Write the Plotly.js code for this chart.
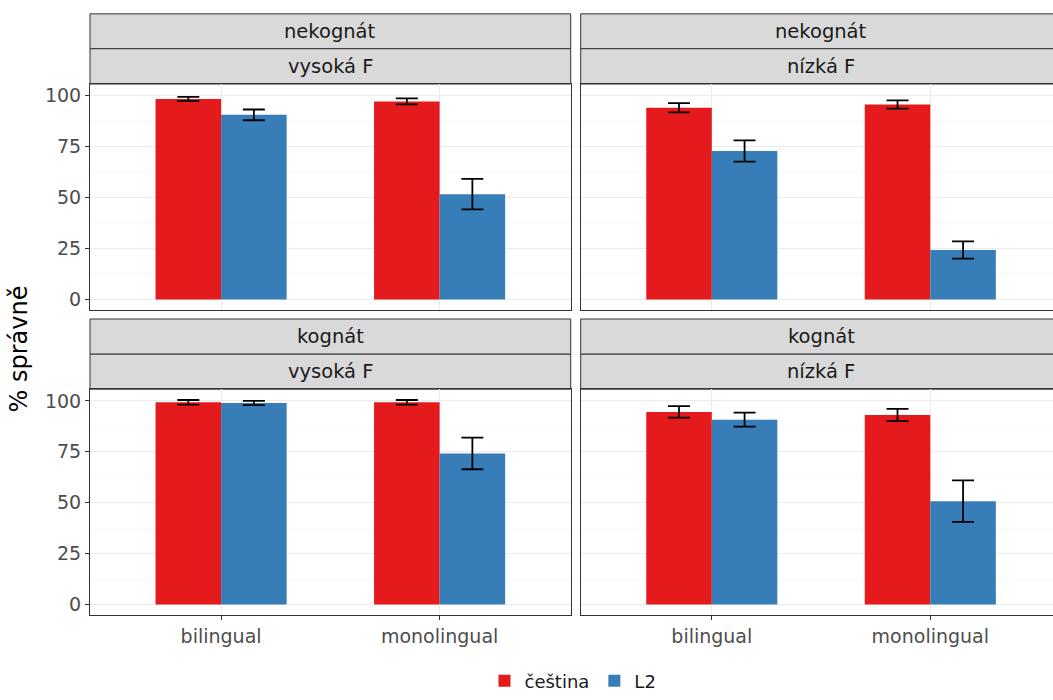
<!DOCTYPE html>
<html>
<head>
<meta charset="utf-8">
<script src="https://cdn.plot.ly/plotly-3.0.1.min.js"></script>
<style>html,body{margin:0;padding:0;background:#fff;width:1053px;height:700px;overflow:hidden;}#chart{width:1053px;height:700px;display:block;}</style>
</head>
<body>
<div id="chart"></div>
<script>
// Categories and facet labels
const groups = ['bilingual', 'monolingual'];
const seriesNames = ['čeština', 'L2'];
const rowLabels = ['nekognát', 'kognát'];
const colLabels = ['vysoká F', 'nízká F'];
const yTicks = [0, 25, 50, 75, 100];

// Values (% správně) per panel: [bilingual, monolingual]
const cz_nekognat_vysoka = [98.4, 97.2];
const cz_nekognat_vysoka_err = [1.05, 1.45];
const l2_nekognat_vysoka = [90.6, 51.7];
const l2_nekognat_vysoka_err = [2.65, 7.45];

const cz_nekognat_nizka = [94.1, 95.7];
const cz_nekognat_nizka_err = [2.3, 2.0];
const l2_nekognat_nizka = [72.9, 24.3];
const l2_nekognat_nizka_err = [5.2, 4.25];

const cz_kognat_vysoka = [99.3, 99.3];
const cz_kognat_vysoka_err = [1.15, 1.15];
const l2_kognat_vysoka = [99.0, 74.2];
const l2_kognat_vysoka_err = [1.05, 7.75];

const cz_kognat_nizka = [94.6, 93.1];
const cz_kognat_nizka_err = [2.8, 3.0];
const l2_kognat_nizka = [90.8, 50.8];
const l2_kognat_nizka_err = [3.4, 10.15];

const colors = ['#E41A1C', '#377EB8'];
const W = 1053, H = 700;
const FONT = '"DejaVu Sans", Verdana, sans-serif';

const panels = [
  {ax: '', row: 0, col: 0, cz: cz_nekognat_vysoka, cze: cz_nekognat_vysoka_err, l2: l2_nekognat_vysoka, l2e: l2_nekognat_vysoka_err},
  {ax: '2', row: 0, col: 1, cz: cz_nekognat_nizka, cze: cz_nekognat_nizka_err, l2: l2_nekognat_nizka, l2e: l2_nekognat_nizka_err},
  {ax: '3', row: 1, col: 0, cz: cz_kognat_vysoka, cze: cz_kognat_vysoka_err, l2: l2_kognat_vysoka, l2e: l2_kognat_vysoka_err},
  {ax: '4', row: 1, col: 1, cz: cz_kognat_nizka, cze: cz_kognat_nizka_err, l2: l2_kognat_nizka, l2e: l2_kognat_nizka_err}
];

// pixel geometry (right column is cut off by the image edge)
const colX = [[90, 570.7], [580.7, 1053]];
const fullPanelW = 480.7;
const colRange = [[-0.6, 1.6], [-0.6, -0.6 + 2.2 * (1053 - 580.7) / fullPanelW]];
const rowY = [[85, 313.3], [393.7, 622]];
const stripY = [[[14, 49.3], [49.3, 85]], [[322.7, 358.3], [358.3, 393.7]]];

const traces = [];
const layout = {
  width: W, height: H,
  margin: {l: 0, r: 0, t: 0, b: 0},
  paper_bgcolor: '#fff', plot_bgcolor: '#fff',
  barmode: 'group', bargap: 0.4, bargroupgap: 0,
  font: {family: FONT, color: '#1A1A1A'},
  showlegend: true,
  legend: {orientation: 'h', x: 573 / W, xanchor: 'center', y: 1 - 689 / H, yanchor: 'middle',
           font: {size: 18, color: '#1A1A1A', family: FONT}, traceorder: 'normal', itemwidth: 30},
  shapes: [], annotations: []
};

panels.forEach((p, i) => {
  const xa = 'x' + p.ax, ya = 'y' + p.ax;
  const ser = [[p.cz, p.cze], [p.l2, p.l2e]];
  ser.forEach((s, k) => {
    traces.push({
      type: 'bar', x: groups, y: s[0], name: seriesNames[k],
      xaxis: xa, yaxis: ya,
      marker: {color: colors[k], line: {width: 0}},
      error_y: {type: 'data', array: s[1], visible: true, color: '#000', thickness: 1.8, width: 11},
      legendgroup: seriesNames[k], showlegend: i === 0, hoverinfo: 'skip'
    });
  });
  const [x0, x1] = colX[p.col];
  const [y0, y1] = rowY[p.row];
  const bottom = p.row === 1, left = p.col === 0;
  layout['xaxis' + p.ax] = {
    domain: [x0 / W, x1 / W], anchor: ya, type: 'category', range: colRange[p.col],
    showgrid: true, gridcolor: '#EBEBEB', gridwidth: 1,
    showline: true, mirror: true, linecolor: '#333333', linewidth: 1,
    ticks: bottom ? 'outside' : '', ticklen: 4, tickcolor: '#333333', tickwidth: 1,
    showticklabels: bottom, tickfont: {size: 19, color: '#4D4D4D', family: FONT},
    zeroline: false, fixedrange: true
  };
  layout['yaxis' + p.ax] = {
    domain: [1 - y1 / H, 1 - y0 / H], anchor: xa, range: [-5.04, 105.74],
    tickvals: yTicks, ticktext: yTicks.map(String),
    showgrid: true, gridcolor: '#EBEBEB', gridwidth: 1,
    minor: {tickvals: [12.5, 37.5, 62.5, 87.5], showgrid: true, gridcolor: '#F3F3F3', gridwidth: 0.6, ticks: ''},
    showline: true, mirror: true, linecolor: '#333333', linewidth: 1,
    ticks: left ? 'outside' : '', ticklen: 4, tickcolor: '#333333', tickwidth: 1,
    showticklabels: left, tickfont: {size: 19, color: '#4D4D4D', family: FONT},
    zeroline: false, fixedrange: true
  };
  // strips
  const labels = [rowLabels[p.row], colLabels[p.col]];
  stripY[p.row].forEach((sy, j) => {
    layout.shapes.push({type: 'rect', xref: 'paper', yref: 'paper',
      x0: x0 / W, x1: p.col === 1 ? 1.01 : x1 / W, y0: 1 - sy[1] / H, y1: 1 - sy[0] / H,
      fillcolor: '#D9D9D9', line: {color: '#333333', width: 1}, layer: 'below'});
    layout.annotations.push({xref: 'paper', yref: 'paper', x: (x0 + x0 + fullPanelW) / 2 / W, y: 1 - (sy[0] + sy[1]) / 2 / H,
      text: labels[j], showarrow: false, xanchor: 'center', yanchor: 'middle',
      font: {size: 19.5, color: '#1A1A1A', family: FONT}});
  });
});

layout.annotations.push({xref: 'paper', yref: 'paper', x: 19 / W, y: 1 - 353.5 / H,
  text: '% správně', textangle: -90, showarrow: false, xanchor: 'center', yanchor: 'middle',
  font: {size: 24, color: '#000', family: FONT}});

Plotly.newPlot('chart', traces, layout, {displayModeBar: false, staticPlot: true});
</script>
</body>
</html>
